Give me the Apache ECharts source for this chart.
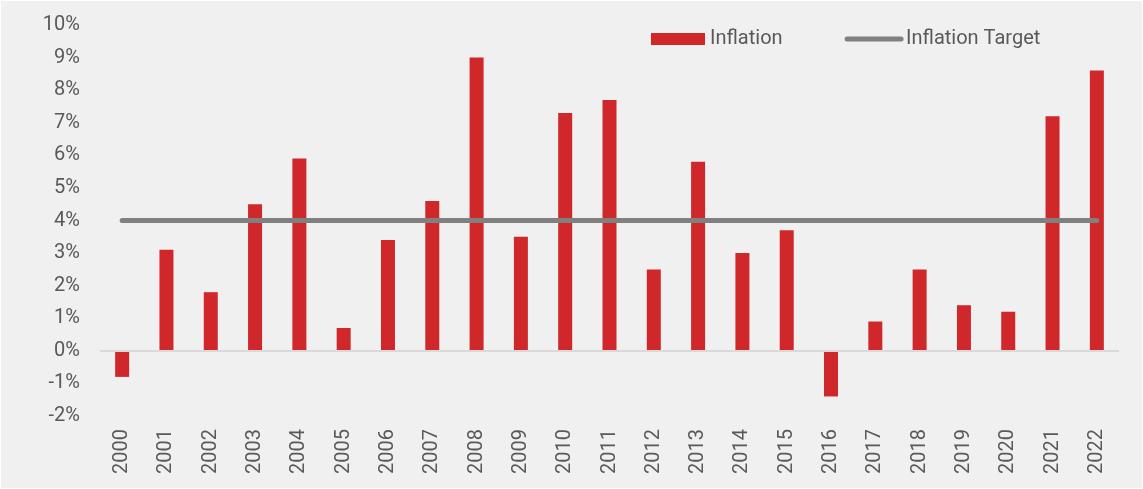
<!DOCTYPE html>
<html>
<head>
<meta charset="utf-8">
<script src="https://cdn.jsdelivr.net/npm/echarts@6/dist/echarts.min.js"></script>
<style>
  html, body { margin: 0; padding: 0; background: #fff; }
  #main { width: 1141px; height: 487px; border: 1px solid #fff; background: #f0f0f0; }
</style>
</head>
<body>
<div id="main"></div>
<script>
var years = ['2000','2001','2002','2003','2004','2005','2006','2007','2008','2009','2010','2011',
  '2012','2013','2014','2015','2016','2017','2018','2019','2020','2021','2022'];
var inflation = [-0.8, 3.1, 1.8, 4.5, 5.9, 0.7, 3.4, 4.6, 9.0, 3.5, 7.3, 7.7,
  2.5, 5.8, 3.0, 3.7, -1.4, 0.9, 2.5, 1.4, 1.2, 7.2, 8.6];
var target = [4, 4, 4, 4, 4, 4, 4, 4, 4, 4, 4, 4, 4, 4, 4, 4, 4, 4, 4, 4, 4, 4, 4];

var textColor = '#595959';
var myChart = echarts.init(document.getElementById('main'));
myChart.setOption({
  backgroundColor: '#f0f0f0',
  animation: false,
  textStyle: { fontFamily: 'Roboto' },
  legend: {
    left: 645,
    top: 23,
    itemWidth: 54,
    itemHeight: 12,
    itemGap: 62,
    textStyle: { color: textColor, fontSize: 20, fontFamily: 'Roboto' },
    data: [
      { name: 'Inflation', icon: 'rect' },
      {
        name: 'Inflation Target',
        itemStyle: { opacity: 0 },
        lineStyle: { color: '#808080', width: 5, cap: 'round' }
      }
    ]
  },
  grid: { left: 99, right: 23, top: 24, bottom: 72 },
  xAxis: {
    type: 'category',
    data: years,
    axisLine: { show: false, onZero: false },
    axisTick: { show: false },
    axisLabel: { rotate: 90, color: textColor, fontSize: 20, margin: 13, fontFamily: 'Roboto' }
  },
  yAxis: {
    type: 'value',
    min: -2,
    max: 10,
    interval: 1,
    splitLine: { show: false },
    axisLine: { show: false },
    axisTick: { show: false },
    axisLabel: {
      color: textColor, fontSize: 20, margin: 20, fontFamily: 'Roboto',
      formatter: function (v) { return v + '%'; }
    }
  },
  series: [
    {
      name: 'Inflation',
      type: 'bar',
      data: inflation,
      barWidth: 14,
      itemStyle: { color: '#d0272b' },
      markLine: {
        silent: true,
        symbol: 'none',
        label: { show: false },
        lineStyle: { color: '#d9d9d9', width: 2, type: 'solid' },
        data: [{ yAxis: 0 }]
      }
    },
    {
      name: 'Inflation Target',
      type: 'line',
      data: target,
      symbol: 'none',
      lineStyle: { color: '#808080', width: 5, cap: 'round' },
      itemStyle: { color: '#808080' }
    }
  ]
});
</script>
</body>
</html>
